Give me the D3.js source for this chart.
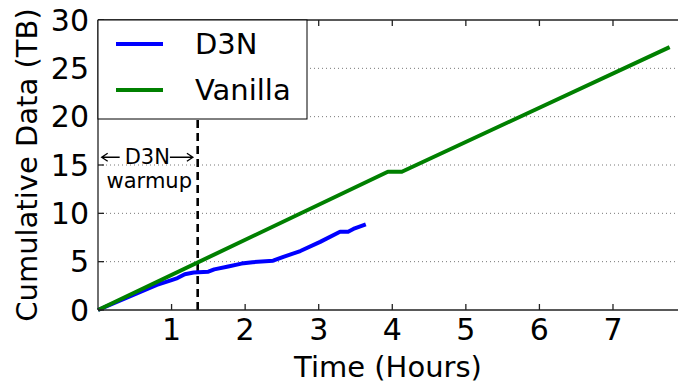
<!DOCTYPE html>
<html>
<head>
<meta charset="utf-8">
<script src="https://cdn.jsdelivr.net/npm/d3@7"></script>
<style>
    body { margin: 0; background: #fff; }
    text { font-family: "DejaVu Sans", sans-serif; fill: #000; }
</style>
</head>
<body>
<svg id="chart" width="678" height="385"></svg>
<script>
// hours vs cumulative TB
var d3nTime = [0, 0.4, 0.8, 1.0, 1.08, 1.18, 1.3, 1.5, 1.58, 1.77, 1.95, 2.1, 2.38, 2.52, 2.75, 3.02, 3.29, 3.4, 3.49, 3.64];
var d3nData = [0, 1.3, 2.6, 3.1, 3.3, 3.7, 3.87, 3.96, 4.2, 4.5, 4.8, 4.95, 5.1, 5.5, 6.1, 7.05, 8.1, 8.1, 8.45, 8.87];

var vanillaTime = [0, 3.94, 4.13, 7.77];
var vanillaData = [0, 14.3, 14.3, 27.2];

var xTicks = [1, 2, 3, 4, 5, 6, 7];
var yTicks = [0, 5, 10, 15, 20, 25, 30];
var gridTicks = [5, 10, 15, 20, 25];

var warmupEnd = 1.355;

var series = [
    {name: 'D3N', color: '#0000ff', time: d3nTime, data: d3nData},
    {name: 'Vanilla', color: '#008000', time: vanillaTime, data: vanillaData}
];

var svg = d3.select('#chart');
var margin = {left: 98, top: 20, bottom: 75};
var plotW = 73.57 * 8;
var plotH = 385 - margin.top - margin.bottom;

var x = d3.scaleLinear().domain([0, 8]).range([margin.left, margin.left + plotW]);
var y = d3.scaleLinear().domain([0, 30]).range([margin.top + plotH, margin.top]);

// dotted grid
svg.append('g').selectAll('line').data(gridTicks).enter().append('line')
    .attr('x1', x(0)).attr('x2', x(8))
    .attr('y1', function(d) { return y(d); })
    .attr('y2', function(d) { return y(d); })
    .attr('stroke', '#777')
    .attr('stroke-width', 1)
    .attr('stroke-dasharray', '1,3');

// warmup marker
svg.append('line')
    .attr('x1', x(warmupEnd)).attr('x2', x(warmupEnd))
    .attr('y1', y(0)).attr('y2', y(30))
    .attr('stroke', '#000')
    .attr('stroke-width', 2.6)
    .attr('stroke-dasharray', '8,5');

var line = d3.line()
    .x(function(d) { return x(d[0]); })
    .y(function(d) { return y(d[1]); });

series.forEach(function(s)
{
    svg.append('path')
        .datum(d3.zip(s.time, s.data))
        .attr('d', line)
        .attr('fill', 'none')
        .attr('stroke', s.color)
        .attr('stroke-width', 4)
        .attr('stroke-linejoin', 'round');
});

// spines
var spine = svg.append('g').attr('stroke', '#222').attr('stroke-width', 1.3);
spine.append('line').attr('x1', x(0)).attr('x2', x(8)).attr('y1', y(0)).attr('y2', y(0));
spine.append('line').attr('x1', x(0)).attr('x2', x(8)).attr('y1', y(30)).attr('y2', y(30));
spine.append('line').attr('x1', x(0)).attr('x2', x(0)).attr('y1', y(0)).attr('y2', y(30));

// inward ticks
var tickLen = 6;
xTicks.forEach(function(t)
{
    spine.append('line').attr('x1', x(t)).attr('x2', x(t)).attr('y1', y(0)).attr('y2', y(0) - tickLen);
    spine.append('line').attr('x1', x(t)).attr('x2', x(t)).attr('y1', y(30)).attr('y2', y(30) + tickLen);
});
yTicks.forEach(function(t)
{
    spine.append('line').attr('x1', x(0)).attr('x2', x(0) + tickLen).attr('y1', y(t)).attr('y2', y(t));
});

svg.append('g').selectAll('text').data(xTicks).enter().append('text')
    .attr('x', function(d) { return x(d); })
    .attr('y', y(0) + 30)
    .attr('text-anchor', 'middle')
    .attr('font-size', 30)
    .text(function(d) { return d; });

svg.append('g').selectAll('text').data(yTicks).enter().append('text')
    .attr('x', x(0) - 9)
    .attr('y', function(d) { return y(d); })
    .attr('dy', '0.36em')
    .attr('text-anchor', 'end')
    .attr('font-size', 30)
    .text(function(d) { return d; });

svg.append('text')
    .attr('x', (x(0) + 678) / 2 + 0)
    .attr('y', 377)
    .attr('text-anchor', 'middle')
    .attr('font-size', 29)
    .text('Time (Hours)');

svg.append('text')
    .attr('transform', 'translate(37,' + y(15) + ') rotate(-90)')
    .attr('text-anchor', 'middle')
    .attr('font-size', 29)
    .text('Cumulative Data (TB)');

// warmup annotation
var ann = svg.append('g');
var arrowY = y(15.8);
var arrowL = x(0.05), arrowR = x(1.29);
ann.append('text')
    .attr('x', (arrowL + arrowR) / 2)
    .attr('y', arrowY + 7)
    .attr('text-anchor', 'middle')
    .attr('font-size', 21)
    .text('D3N');
ann.append('text')
    .attr('x', (arrowL + arrowR) / 2 + 2)
    .attr('y', y(12.6))
    .attr('text-anchor', 'middle')
    .attr('font-size', 21)
    .text('warmup');
var arrows = ann.append('g').attr('stroke', '#000').attr('stroke-width', 1.3).attr('fill', 'none');
arrows.append('path').attr('d', 'M' + arrowL + ',' + arrowY + 'H' + (arrowL + 18) + 'M' + (arrowL + 6) + ',' + (arrowY - 4) + 'L' + arrowL + ',' + arrowY + 'L' + (arrowL + 6) + ',' + (arrowY + 4));
arrows.append('path').attr('d', 'M' + arrowR + ',' + arrowY + 'H' + (arrowR - 23) + 'M' + (arrowR - 6) + ',' + (arrowY - 4) + 'L' + arrowR + ',' + arrowY + 'L' + (arrowR - 6) + ',' + (arrowY + 4));

// legend
var legend = svg.append('g');
legend.append('rect')
    .attr('x', x(0)).attr('y', y(30))
    .attr('width', 209).attr('height', 99)
    .attr('fill', '#fff')
    .attr('stroke', '#000')
    .attr('stroke-width', 1);
series.forEach(function(s, i)
{
    var ly = 44 + i * 46;
    legend.append('line')
        .attr('x1', 116).attr('x2', 163)
        .attr('y1', ly).attr('y2', ly)
        .attr('stroke', s.color)
        .attr('stroke-width', 4);
    legend.append('text')
        .attr('x', 195).attr('y', ly)
        .attr('dy', '0.36em')
        .attr('font-size', 29)
        .text(s.name);
});
</script>
</body>
</html>
